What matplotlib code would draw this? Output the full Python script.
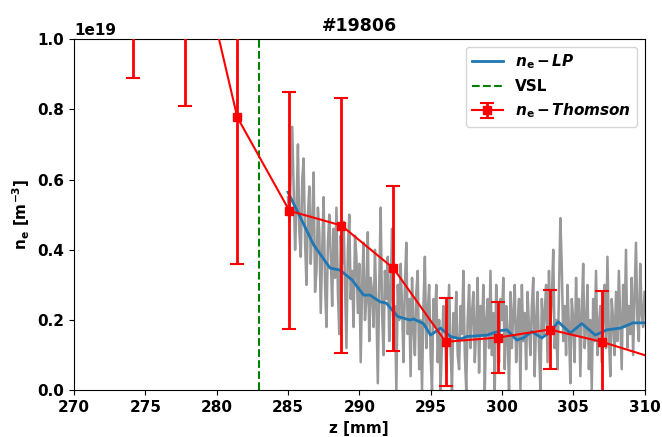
import numpy as np
import matplotlib
matplotlib.use("Agg")
import matplotlib.pyplot as plt

plt.rcParams['font.weight'] = 'bold'
plt.rcParams['axes.titleweight'] = 'bold'
plt.rcParams['axes.labelweight'] = 'bold'
plt.rcParams['font.size'] = 11

# Thomson
z_thomson = [274.15, 277.8, 281.45, 285.1, 288.75, 292.4, 296.05, 299.7, 303.35, 307.0, 310.65]
ne_thomson = [1.55, 1.41, 0.777, 0.511, 0.469, 0.347, 0.138, 0.15, 0.173, 0.138, 0.092]
err_thomson = [0.66, 0.60, 0.417, 0.337, 0.364, 0.234, 0.126, 0.10, 0.113, 0.145, 0.10]

# sonda de Langmuir, crudo (paso 0.1 mm desde 285, una fila por mm)
ne_lp_raw = [
    0.55, 0.48, 0.62, 0.75, 0.58, 0.40, 0.52, 0.70, 0.45, 0.38,
    0.60, 0.66, 0.42, 0.30, 0.50, 0.58, 0.36, 0.48, 0.62, 0.28,
    0.34, 0.52, 0.45, 0.22, 0.40, 0.55, 0.30, 0.18, 0.42, 0.50,
    0.38, 0.24, 0.46, 0.32, 0.52, 0.28, 0.16, 0.44, 0.36, 0.48,
    0.30, 0.12, 0.40, 0.50, 0.26, 0.34, 0.18, 0.44, 0.38, 0.22,
    0.36, 0.08, 0.30, 0.42, 0.20, 0.26, 0.45, 0.14, 0.32, 0.28,
    0.18, 0.40, 0.24, 0.02, 0.30, 0.52, 0.22, 0.10, 0.34, 0.26,
    0.38, 0.14, 0.28, 0.46, 0.12, 0.24, 0.00, 0.30, 0.20, 0.36,
    0.24, 0.08, 0.30, 0.42, 0.16, 0.26, 0.04, 0.32, 0.18, 0.10,
    0.28, 0.34, 0.06, 0.20, 0.00, 0.24, 0.38, 0.12, 0.22, 0.30,
    0.10, 0.00, 0.26, 0.18, 0.30, 0.08, 0.20, 0.00, 0.14, 0.24,
    0.20, 0.05, 0.18, 0.30, 0.12, 0.00, 0.22, 0.15, 0.28, 0.10,
    0.06, 0.24, 0.16, 0.34, 0.10, 0.00, 0.20, 0.30, 0.12, 0.22,
    0.28, 0.08, 0.18, 0.32, 0.05, 0.24, 0.16, 0.30, 0.00, 0.20,
    0.26, 0.12, 0.34, 0.10, 0.22, 0.00, 0.30, 0.18, 0.08, 0.26,
    0.20, 0.32, 0.06, 0.24, 0.16, 0.00, 0.28, 0.12, 0.22, 0.30,
    0.08, 0.18, 0.26, 0.00, 0.30, 0.14, 0.22, 0.06, 0.28, 0.18,
    0.10, 0.24, 0.32, 0.04, 0.20, 0.28, 0.12, 0.00, 0.26, 0.16,
    0.22, 0.30, 0.08, 0.34, 0.18, 0.26, 0.40, 0.12, 0.20, 0.06,
    0.28, 0.49, 0.35, 0.14, 0.24, 0.10, 0.30, 0.18, 0.02, 0.26,
    0.20, 0.08, 0.32, 0.16, 0.26, 0.04, 0.22, 0.36, 0.12, 0.18,
    0.30, 0.06, 0.20, 0.00, 0.26, 0.14, 0.34, 0.10, 0.18, 0.24,
    0.08, 0.22, 0.30, 0.12, 0.38, 0.16, 0.04, 0.26, 0.20, 0.10,
    0.28, 0.14, 0.34, 0.20, 0.06, 0.30, 0.18, 0.40, 0.12, 0.24,
    0.16, 0.32, 0.10, 0.26, 0.42, 0.20, 0.14, 0.36, 0.22, 0.18,
    0.28,
]
z_lp_raw = 285.0 + 0.1 * np.arange(len(ne_lp_raw))

# sonda de Langmuir, suavizado
z_lp = [285.0, 285.85, 286.8, 287.95, 288.65, 289.5, 290.3, 290.75, 291.45, 291.9,
        292.7, 293.55, 293.8, 294.5, 295.0, 295.7, 296.4, 297.1, 297.55, 298.95,
        299.9, 300.35, 301.05, 301.5, 302.1, 302.8, 303.4, 303.95, 304.8, 305.6,
        306.55, 307.35, 308.3, 309.2, 310.1]
ne_lp = [0.564, 0.494, 0.414, 0.348, 0.342, 0.314, 0.271, 0.271, 0.252, 0.248,
         0.21, 0.2, 0.203, 0.19, 0.157, 0.177, 0.153, 0.146, 0.153, 0.157,
         0.17, 0.172, 0.143, 0.149, 0.167, 0.149, 0.167, 0.195, 0.163, 0.19,
         0.157, 0.172, 0.177, 0.192, 0.192]

z_vsl = 283.0

escala = 1e19

fig = plt.figure(figsize=(6.62, 4.37), dpi=100)
ax = fig.add_axes([0.1118, 0.1069, 0.8618, 0.8039])

ax.plot(z_lp_raw, np.array(ne_lp_raw) * escala, color='#999999', lw=1.8, zorder=1)
ax.plot(z_lp, np.array(ne_lp) * escala, color='tab:blue', lw=2,
        label=r'$\mathbfit{n}_{\mathbf{e}}\,\mathbf{-}\,\mathbfit{LP}$', zorder=2)
ax.axvline(z_vsl, color='green', ls='--', lw=1.5, label='VSL', zorder=2)
ax.errorbar(z_thomson, np.array(ne_thomson) * escala, yerr=np.array(err_thomson) * escala,
            color='red', marker='s', ms=6, lw=1.5, elinewidth=2, capsize=5, capthick=1.5,
            label=r'$\mathbfit{n}_{\mathbf{e}}\,\mathbf{-}\,\mathbfit{Thomson}$', zorder=3)

ax.set_xlim(270, 310)
ax.set_ylim(0, 1e19)
ax.set_title("#19806", fontsize=12.5)
ax.set_xlabel("z [mm]")
ax.set_ylabel(r'$\mathbf{n_e\ [m^{-3}]}$')
ax.legend(loc='upper right', fontsize=11)

plt.savefig("out.png", dpi=100)
